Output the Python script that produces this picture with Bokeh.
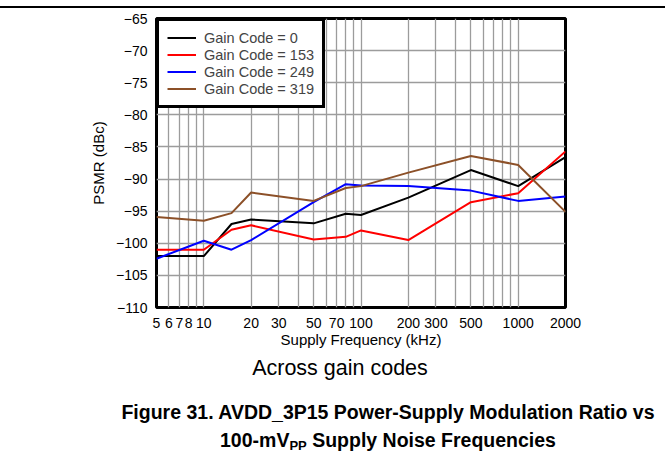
from bokeh.plotting import figure
from bokeh.models import Range1d, FixedTicker, PrintfTickFormatter, Legend, LegendItem, Div
from bokeh.layouts import column
from bokeh.embed import file_html
from bokeh.resources import INLINE

# ---- data ----
freq_khz = [5, 10, 15, 20, 50, 80, 100, 200, 500, 1000, 2000]
gain_0 = [-102.0, -102.0, -97.0, -96.3, -96.9, -95.4, -95.6, -92.9, -88.6, -91.1, -86.6]
gain_153 = [-101.0, -101.0, -97.9, -97.2, -99.4, -99.0, -98.0, -99.5, -93.6, -92.2, -85.7]
gain_249 = [-102.4, -99.6, -101.0, -99.5, -93.6, -90.8, -91.0, -91.1, -91.8, -93.4, -92.7]
gain_319 = [-95.9, -96.5, -95.3, -92.1, -93.4, -91.4, -91.1, -89.0, -86.4, -87.8, -95.1]

series_labels = ["Gain Code = 0", "Gain Code = 153", "Gain Code = 249", "Gain Code = 319"]
series_colors = ["#000000", "#ff0000", "#0000ff", "#8c5028"]

x_tick_values = [5, 6, 7, 8, 10, 20, 30, 50, 70, 100, 200, 300, 500, 1000, 2000]
x_grid_values = [5, 6, 7, 8, 9, 10, 20, 30, 40, 50, 60, 70, 80, 90,
                 100, 200, 300, 400, 500, 600, 700, 800, 900, 1000, 2000]
y_tick_values = [-110, -105, -100, -95, -90, -85, -80, -75, -70, -65]

subtitle = "Across gain codes"
caption_1 = "Figure 31. AVDD_3P15 Power-Supply Modulation Ratio vs"
caption_2a, caption_2sub, caption_2b = "100-mV", "PP", " Supply Noise Frequencies"

FONT = "Liberation Sans"

W = 665
# ---- top rule ----
rule = Div(text="", width=W, height=2, margin=(6, 0, 0, 0),
           styles={"background-color": "black"})

# ---- main chart (page y 8 .. 353) ----
H1 = 345
FL, FR, FT, FB = 156, 565, 10, 299
p = figure(width=W, height=H1, x_axis_type="log", output_backend="svg",
           toolbar_location=None, title=None,
           x_range=Range1d(5, 2000), y_range=Range1d(-110, -65),
           min_border_left=FL, min_border_right=W - FR, min_border_top=FT,
           min_border_bottom=H1 - FB, margin=0)

p.outline_line_color = "black"
p.outline_line_width = 3
p.background_fill_color = "white"
p.border_fill_color = "white"

p.xaxis.ticker = FixedTicker(ticks=x_tick_values)
p.xaxis.formatter = PrintfTickFormatter(format="%d")
p.yaxis.ticker = FixedTicker(ticks=y_tick_values)
for ax in (p.xaxis[0], p.yaxis[0]):
    ax.axis_line_color = None
    ax.major_tick_line_color = None
    ax.minor_tick_line_color = None
    ax.major_tick_out = 0
    ax.major_tick_in = 0
    ax.minor_tick_out = 0
    ax.minor_tick_in = 0
    ax.major_label_text_font = FONT
    ax.major_label_text_font_size = "14px"
    ax.major_label_text_color = "black"
    ax.axis_label_text_font = FONT
    ax.axis_label_text_font_size = "15px"
    ax.axis_label_text_font_style = "normal"
    ax.axis_label_text_color = "black"
p.xaxis.major_label_standoff = 10
p.yaxis.major_label_standoff = 9
p.xaxis.axis_label = "Supply Frequency (kHz)"
p.xaxis.axis_label_standoff = 0
p.yaxis.axis_label = "PSMR (dBc)"
p.yaxis.axis_label_standoff = 6

p.xgrid.ticker = FixedTicker(ticks=x_grid_values)
p.ygrid.ticker = FixedTicker(ticks=y_tick_values)
for g in (p.xgrid[0], p.ygrid[0]):
    g.grid_line_color = "#9c9c9c"
    g.grid_line_width = 1.3

renderers = []
for ys, col in zip([gain_0, gain_153, gain_249, gain_319], series_colors):
    renderers.append(p.line(freq_khz, ys, line_color=col, line_width=2))

legend = Legend(items=[LegendItem(label=l, renderers=[r]) for l, r in zip(series_labels, renderers)],
                location="top_left", margin=0, padding=8, spacing=0,
                glyph_width=29, glyph_height=17, label_height=17, label_standoff=8,
                label_text_font=FONT, label_text_font_size="14.5px",
                border_line_color="black", border_line_width=3, border_line_alpha=1.0,
                background_fill_color="white", background_fill_alpha=1.0)
p.add_layout(legend, "center")

# ---- caption block (page y 353 .. 455) ----
H2 = 102
box = ("position:absolute; white-space:nowrap; text-align:center; color:black; "
       "font-family:'Liberation Sans', Arial, sans-serif;")
html = (
    f'<div style="position:relative; width:{W}px; height:{H2}px;">'
    f'<div style="{box} left:190px; width:300px; top:3px; height:24px; line-height:24px; '
    f'font-size:21.5px;">{subtitle}</div>'
    f'<div style="{box} left:88px; width:600px; top:48px; height:22px; line-height:22px; '
    f'font-size:19.5px; font-weight:bold;">{caption_1}</div>'
    f'<div style="{box} left:88px; width:600px; top:76px; height:22px; line-height:22px; '
    f'font-size:19.5px; font-weight:bold;">{caption_2a}'
    f'<span style="font-size:13px; vertical-align:-3px;">{caption_2sub}</span>'
    f'{caption_2b}</div>'
    '</div>'
)
captions = Div(text=html, width=W, height=H2, margin=0)

layout = column(rule, p, captions, spacing=0)
open("out.html", "w").write(file_html(layout, INLINE))
